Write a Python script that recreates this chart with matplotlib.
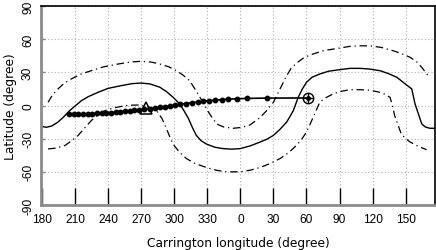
import numpy as np
import matplotlib
matplotlib.use("Agg")
import matplotlib.pyplot as plt

plt.rcParams["font.family"] = ["Liberation Sans", "DejaVu Sans"]

# longitudes are unwrapped (360..540 == 0..180)
solid_lon = [179, 184, 189, 194.5, 199.5, 205, 215.7, 222, 231, 240, 252, 262, 270,
             278, 287, 293, 299, 305, 309, 313, 316.5, 320, 324.5, 329.5, 337,
             344.5, 352, 360, 369, 378, 384, 390, 396, 402, 405, 408, 412.5, 416,
             420, 425, 432, 440, 450, 459.5, 468.6, 477, 486.7, 494, 502, 509.7,
             515.5, 518.5, 521.5, 524.6, 528, 532, 536.6]
solid_lat = [-18.8, -19.7, -18.5, -15, -10.5, -4.7, 4.3, 8, 12, 15.5, 18, 19.8, 20.3,
             19.5, 16.5, 12.5, 7.4, 1.4, -5, -12, -20, -27, -32, -35, -37.8,
             -39, -39.5, -39, -36.5, -33, -30.5, -27, -21.5, -15, -10, -4.7, 7.4, 14.5,
             21, 25.5, 28.5, 31, 32.4, 33.6, 33.6, 33, 31.5, 29, 25.5, 19.4,
             15, 1.4, -7.5, -16.7, -19.5, -20.6, -20.6]

upper_lon = [185.5, 189.5, 194.5, 200, 206.6, 215, 224.7, 236, 249, 260, 270, 279,
             287, 295, 302, 308, 314, 320, 326, 332, 338.5, 345, 353.6, 361,
             368.7, 373, 378, 384, 390, 396, 402, 406, 411, 418, 426, 435, 444,
             459.5, 468, 477.6, 488, 498.8, 506, 514, 520, 524.6, 531.5]
upper_lat = [2.9, 9.5, 15, 20, 24, 28.3, 31.5, 35, 37.5, 39.3, 40, 39.3,
             37.5, 35, 31.5, 27.5, 22.4, 13, 2.9, -7.5, -16.7, -19.5, -20.6, -19.8,
             -17.6, -14.5, -10.7, -4.5, 2.9, 15, 27, 33.5, 38.4, 43.5, 46.6, 49.5, 51,
             53.5, 54, 54, 52.5, 49.5, 47, 43.6, 39.5, 34.5, 25.5]

lower_lon = [185.5, 193, 200.6, 206, 212.6, 218.5, 224.7, 230.5, 236.9, 246, 255,
             262, 269, 277, 284, 289, 293, 296, 299, 304.5, 311, 319, 329, 338,
             347.6, 360, 369, 378, 387, 396, 404, 411, 416, 420, 423, 426, 429,
             432, 437.5, 444, 451, 459.5, 468.6, 478, 486.7, 491.5, 495.8, 498,
             500, 503, 506, 510, 514, 521.5, 529]
lower_lat = [-39.3, -38.5, -36.3, -32.5, -27.3, -20.5, -13.7, -8.5, -4.7, -2, -0.2,
             0.3, 0.5, -1.5, -4.7, -12, -21, -28.5, -35, -42, -48, -52.5, -56, -58.5,
             -60, -60, -58.5, -56, -52.5, -48, -42.5, -36, -30, -24, -17.5, -10.7, -4,
             2.9, 7, 10.4, 12.8, 14.3, 14.3, 13.8, 11.9, 10, 7.4, 0,
             -9.2, -17.5, -25.8, -30, -33, -37, -40]

track_lon = [204.5, 208.8, 213, 217.2, 221.5, 225.6, 229.9, 234.2, 238.3, 242.6,
             246.9, 251, 255.3, 259.6, 263.8, 268, 272.3, 278, 282.5, 287, 291.6,
             296, 300.7, 305, 310.4, 315.8, 321.3, 326.4, 331.5, 337, 343, 349,
             356.7, 365.8, 384]
track_lat = [-7.7, -7.7, -7.6, -7.6, -7.5, -7.4, -7.2, -7.0, -6.7, -6.4,
             -6.0, -5.6, -5.2, -4.8, -4.4, -4.0, -3.5, -2.8, -2.2, -1.6, -1.0,
             -0.4, 0.3, 1.0, 1.8, 2.5, 3.2, 3.8, 4.3, 4.8, 5.3, 5.7,
             6.1, 6.4, 6.7]

earth_lon, earth_lat = 421, 6.8      # circled plus
tri_lon, tri_lat = 274.5, -2.0       # open triangle

xtick_pos = [180, 210, 240, 270, 300, 330, 360, 390, 420, 450, 480, 510]
xtick_lab = ["180", "210", "240", "270", "300", "330", "0", "30", "60", "90", "120", "150"]
ytick_pos = [-90, -60, -30, 0, 30, 60, 90]

fig = plt.figure(figsize=(4.36, 2.51), dpi=100)
ax = fig.add_axes([41 / 436, 1 - 206 / 251, 394 / 436, 199 / 251])

dashdot = (0, (6, 3, 1, 3))
ax.plot(solid_lon, solid_lat, color="black", lw=1.0)
ax.plot(upper_lon, upper_lat, color="black", lw=0.9, linestyle=dashdot)
ax.plot(lower_lon, lower_lat, color="black", lw=0.9, linestyle=dashdot)

ax.plot(track_lon + [earth_lon], track_lat + [earth_lat], color="black", lw=1.2)
ax.plot(track_lon, track_lat, "o", color="black", ms=3.2)
ax.plot(tri_lon, tri_lat, "^", mfc="none", mec="black", ms=9, mew=1.1)
ax.plot(earth_lon, earth_lat, "o", mfc="none", mec="black", ms=7.5, mew=1.0)
ax.plot(earth_lon, earth_lat, "+", color="black", ms=7.5, mew=1.0)
ax.plot(earth_lon, earth_lat, "o", color="black", ms=2.5)

ax.set_xlim(179.1, 536.6)
ax.set_ylim(-90, 90)
ax.set_xticks(xtick_pos)
ax.set_xticklabels(xtick_lab)
ax.set_yticks(ytick_pos)
ax.set_yticklabels([str(v) for v in ytick_pos], rotation=90, va="center")

ax.grid(True, color="#b0b0b0", linestyle=(0, (1, 2)), lw=0.8)
ax.tick_params(axis="x", direction="in", length=12, width=1.0, color="black",
               labelsize=8.6, pad=6)
ax.tick_params(axis="y", direction="in", length=3, width=1.0, color="#888888",
               labelsize=8.6, pad=5)

for side in ("left", "bottom"):
    ax.spines[side].set_color("#8c8c8c")
    ax.spines[side].set_linewidth(2.0)
for side in ("top", "right"):
    ax.spines[side].set_color("black")
    ax.spines[side].set_linewidth(1.2)

ax.set_xlabel("Carrington longitude (degree)", fontsize=8.8, labelpad=8,
              family="DejaVu Sans")
ax.set_ylabel("Latitude (degree)", fontsize=8.8, labelpad=4, family="DejaVu Sans")

fig.savefig("out.png", dpi=100)
